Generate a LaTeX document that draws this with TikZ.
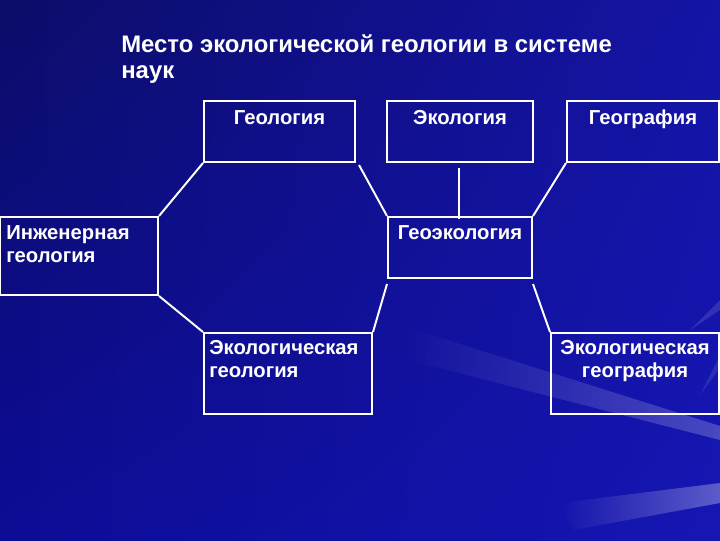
\documentclass[tikz,border=0pt]{standalone}
\usepackage{fontspec}
\setmainfont{Liberation Sans}
\usepackage{xcolor}
\usetikzlibrary{calc,fadings,shadings}

\definecolor{bgdark}{RGB}{12,12,105}
\definecolor{bgmid}{RGB}{20,20,165}
\definecolor{bglow}{RGB}{12,12,150}
\definecolor{bglight}{RGB}{22,22,180}

\tikzset{
  box/.style={draw=white, line width=1.4pt, rectangle, inner sep=0pt},
  boxtext/.style={text=white, font=\bfseries\fontsize{14.4}{16.5}\selectfont, inner sep=0pt},
  link/.style={draw=white, line width=1.4pt},
  ray/.style={fill=white, opacity=0.22, path fading=west}
}

\begin{document}
\begin{tikzpicture}[x=0.025cm,y=-0.025cm]
% Background
\useasboundingbox (0,0) rectangle (720,540);
\shade[upper left=bgdark, upper right=bgmid, lower left=bglow, lower right=bglight] (0,0) rectangle (720,540);

% Light rays from the right
\fill[ray] (720,426) -- (720,440) -- (400,358) -- (400,325) -- cycle;
\fill[ray, opacity=0.3] (720,483) -- (720,503) -- (573,530) -- (560,503) -- cycle;
\fill[white, opacity=0.12] (720,300) -- (720,310) -- (690,330) -- cycle;
\fill[white, opacity=0.10] (720,355) -- (720,368) -- (700,395) -- cycle;

% Title
\node[boxtext, anchor=north west, align=left, font=\bfseries\fontsize{17}{18.5}\selectfont]
  (title) at (121,34) {Место экологической геологии в системе\\наук};

% Boxes
\node[box, minimum width=3.775cm, minimum height=1.525cm] (geol) at (279.5,131.5) {};
\node[box, minimum width=3.65cm, minimum height=1.525cm] (ekol) at (460,131.5) {};
\node[box, minimum width=3.8cm, minimum height=1.525cm] (geogr) at (643,131.5) {};
\node[box, minimum width=3.95cm, minimum height=1.95cm] (ingeol) at (79,256) {};
\node[box, minimum width=3.6cm, minimum height=1.525cm] (geoekol) at (460,247.5) {};
\node[box, minimum width=4.2cm, minimum height=2.025cm] (ekgeol) at (288,373.5) {};
\node[box, minimum width=4.2cm, minimum height=2.025cm] (ekgeogr) at (635,373.5) {};

% Box texts
\node[boxtext, anchor=north] (tgeol) at ($(geol.north)+(0,10)$) {Геология};
\node[boxtext, anchor=north] (tekol) at ($(ekol.north)+(0,10)$) {Экология};
\node[boxtext, anchor=north] (tgeogr) at ($(geogr.north)+(0,10)$) {География};
\node[boxtext, anchor=north west, align=left] (tingeol) at ($(ingeol.north west)+(7,9)$) {Инженерная\\геология};
\node[boxtext, anchor=north] (tgeoekol) at ($(geoekol.north)+(0,9)$) {Геоэкология};
\node[boxtext, anchor=north west, align=left] (tekgeol) at ($(ekgeol.north west)+(6,8)$) {Экологическая\\геология};
\node[boxtext, anchor=north, align=center] (tekgeogr) at ($(ekgeogr.north)+(0,8)$) {Экологическая\\география};

% Connectors
\draw[link] (geol.south west) -- (ingeol.north east);
\draw[link] ($(geol.south east)+(3,2)$) -- (geoekol.north west);
\draw[link] ($(ekol.south)+(-1,5)$) -- ($(geoekol.north)+(-1,3)$);
\draw[link] (geogr.south west) -- (geoekol.north east);
\draw[link] (ingeol.south east) -- (ekgeol.north west);
\draw[link] ($(geoekol.south west)+(0,5)$) -- (ekgeol.north east);
\draw[link] ($(geoekol.south east)+(0,5)$) -- (ekgeogr.north west);
\end{tikzpicture}
\end{document}
